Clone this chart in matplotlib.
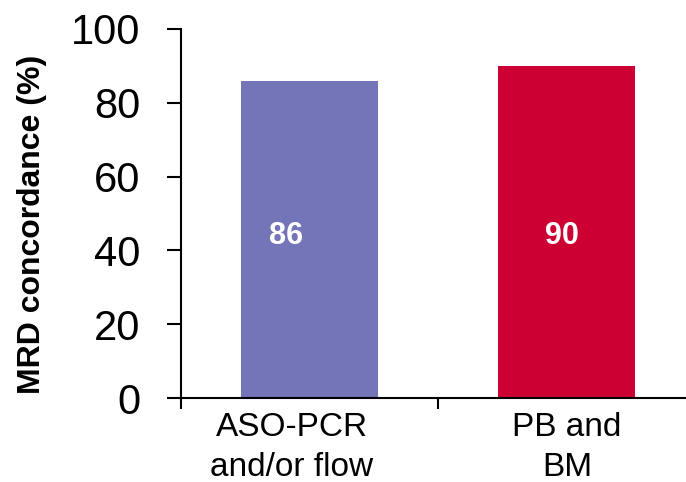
import matplotlib
matplotlib.use("Agg")
import matplotlib.pyplot as plt
import matplotlib.transforms as mtransforms

plt.rcParams['font.family'] = ['Liberation Sans', 'DejaVu Sans']

# Data
categories = ["ASO-PCR\nand/or flow", "PB and\nBM"]
values = [86, 90]
colors = ["#7474B8", "#CC0033"]
yticks = [0, 20, 40, 60, 80, 100]
ylabel = "MRD concordance (%)"

DPI = 100
fig = plt.figure(figsize=(6.86, 4.82), dpi=DPI)
W, H = 686, 482
# axes spans x from the y-axis to one category-width past the last bar (clipped by figure)
AX_L, AX_R, AX_B, AX_T = 181, 695.5, 398, 29
ax = fig.add_axes([AX_L / W, 1 - AX_B / H, (AX_R - AX_L) / W, (AX_B - AX_T) / H])

x = list(range(len(categories)))
ax.bar(x, values, width=0.532, color=colors, zorder=2)

ax.set_xlim(-0.5, len(categories) - 0.5)
ax.set_ylim(0, 100)

# spines
for side in ("top", "right"):
    ax.spines[side].set_visible(False)
for side in ("left", "bottom"):
    ax.spines[side].set_linewidth(1.5)
    ax.spines[side].set_color("black")

# y axis
ax.set_yticks(yticks)
ax.set_yticklabels([str(v) for v in yticks], fontsize=30)
ax.tick_params(axis="y", direction="out", length=10, width=1.5, pad=19)
ax.set_ylabel(ylabel, fontsize=23, fontweight="bold")
ax.yaxis.set_label_coords(-(AX_L - 32) / (AX_R - AX_L), (AX_B - 224) / (AX_B - AX_T))
ax.yaxis.label.set_va("center")

# x axis: tick marks at category boundaries, labels at category centres
ax.set_xticks([i - 0.5 for i in range(len(categories) + 1)])
ax.set_xticklabels([])
ax.tick_params(axis="x", direction="out", length=8, width=1.5)
ax.set_xticks(x, minor=True)
ax.set_xticklabels(categories, minor=True, fontsize=24, linespacing=1.4)
ax.tick_params(axis="x", which="minor", length=0, pad=10)
label_shift_px = [-18, 0]
for lbl, dx in zip(ax.get_xticklabels(minor=True), label_shift_px):
    lbl.set_transform(lbl.get_transform() +
                      mtransforms.ScaledTranslation(dx / DPI, 0, fig.dpi_scale_trans))

# value labels inside bars
value_shift_px = [-24, -5]
for xi, v, dx in zip(x, values, value_shift_px):
    ax.annotate(str(v), xy=(xi, 44), xytext=(dx, 0), textcoords="offset pixels",
                ha="center", va="center", color="white", fontsize=22,
                fontweight="bold", zorder=3)

fig.savefig("out.png", dpi=DPI)
